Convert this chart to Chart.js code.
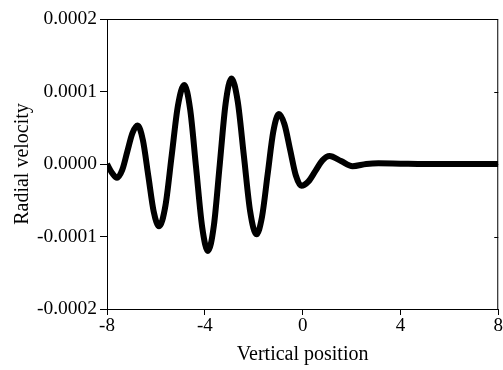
<!DOCTYPE html>
<html>
<head>
<meta charset="utf-8">
<script src="https://cdn.jsdelivr.net/npm/chart.js@4/dist/chart.umd.min.js"></script>
<style>
  html, body { margin: 0; padding: 0; background: #fff; }
  #wrap { width: 503px; height: 370px; position: relative; }
</style>
</head>
<body>
<div id="wrap"><canvas id="c" width="503" height="370"></canvas></div>
<script>
// Vertical position (x) and radial velocity (y)
const positions = [-8, -7.8, -7.59, -7.38, -7.17, -6.96, -6.75, -6.53, -6.31, -6.09, -5.87, -5.61, -5.355, -5.10,
  -4.84, -4.60, -4.355, -4.11, -3.87, -3.63, -3.39, -3.15, -2.91, -2.655, -2.40, -2.145, -1.89, -1.66, -1.43,
  -1.20, -0.97, -0.74, -0.51, -0.28, -0.05, 0.24, 0.525, 0.81, 1.10, 1.57, 2.04, 2.6, 3.1, 4, 5, 6, 7, 8];
const velocities = [0, -0.000012, -0.000019, -0.0000085, 0.000017, 0.0000425, 0.000053, 0.0000326, -0.0000165,
  -0.0000656, -0.000086, -0.0000574, 0.0000115, 0.0000804, 0.000109, 0.0000755, -0.0000055, -0.0000865, -0.000120,
  -0.0000851, -0.000001, 0.0000831, 0.000118, 0.0000865, 0.0000105, -0.0000655, -0.000097, -0.0000727, -0.000014,
  0.0000447, 0.000069, 0.0000545, 0.0000195, -0.0000155, -0.000030, -0.000024, -0.0000095, 0.000005, 0.000011,
  0.000004, -0.000003, 0, 0.000001, 0.0000005, 0, 0, 0, 0];
const xTicks = [-8, -4, 0, 4, 8];
const yTicks = [-0.0002, -0.0001, 0, 0.0001, 0.0002];
const xTitle = 'Vertical position';
const yTitle = 'Radial velocity';

const points = positions.map((x, i) => ({ x: x, y: velocities[i] }));
const FONT = 'Liberation Serif';

const framePlugin = {
  id: 'frame',
  afterDraw(chart) {
    const { ctx, chartArea: a, scales } = chart;
    ctx.save();
    ctx.strokeStyle = '#000';
    ctx.lineWidth = 1;
    ctx.beginPath();
    ctx.moveTo(a.left, a.top + 0.5);
    ctx.lineTo(a.right - 0.5, a.top + 0.5);
    ctx.lineTo(a.right - 0.5, a.bottom);
    ctx.stroke();
    ctx.beginPath();
    yTicks.forEach(v => {
      const py = Math.round(scales.y.getPixelForValue(v)) + 0.5;
      ctx.moveTo(a.right - 4, py);
      ctx.lineTo(a.right, py);
    });
    ctx.stroke();
    ctx.restore();
  }
};

new Chart(document.getElementById('c'), {
  type: 'line',
  data: {
    datasets: [{
      data: points,
      borderColor: '#000',
      backgroundColor: '#000',
      borderWidth: 6,
      pointRadius: 0,
      cubicInterpolationMode: 'monotone',
      fill: false
    }]
  },
  options: {
    responsive: false,
    animation: false,
    layout: { padding: { top: 19, right: 4, left: 11, bottom: 0 } },
    plugins: { legend: { display: false }, tooltip: { enabled: false } },
    scales: {
      x: {
        type: 'linear',
        min: -8, max: 8,
        afterBuildTicks: s => { s.ticks = xTicks.map(v => ({ value: v })); },
        ticks: { color: '#000', font: { family: FONT, size: 19 }, padding: 0, maxRotation: 0,
                 callback: v => String(v) },
        grid: { drawOnChartArea: false, drawTicks: true, tickLength: 6, color: '#000', tickWidth: 1 },
        border: { display: true, color: '#000', width: 1 },
        title: { display: true, text: xTitle, color: '#000', font: { family: FONT, size: 20 }, padding: { top: 0, bottom: 3 } },
        afterFit: s => { s.height = 61; }
      },
      y: {
        type: 'linear',
        min: -0.0002, max: 0.0002,
        afterBuildTicks: s => { s.ticks = yTicks.map(v => ({ value: v })); },
        ticks: { color: '#000', font: { family: FONT, size: 19.5 }, padding: 3,
                 callback: v => Number(v).toFixed(4) },
        grid: { drawOnChartArea: false, drawTicks: true, tickLength: 7, color: '#000', tickWidth: 1 },
        border: { display: true, color: '#000', width: 1 },
        title: { display: true, text: yTitle, color: '#000', font: { family: FONT, size: 20 }, padding: { top: 0, bottom: 4 } },
        afterFit: s => { s.width = 96; }
      }
    }
  },
  plugins: [framePlugin]
});
</script>
</body>
</html>
